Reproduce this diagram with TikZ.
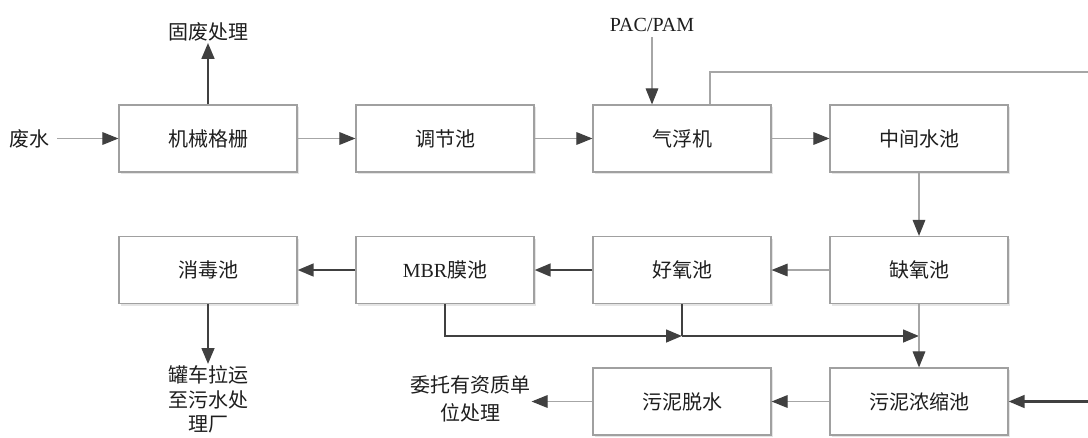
\documentclass[tikz,border=0pt]{standalone}
\usepackage{fontspec}
\setmainfont{Liberation Serif}
\newfontfamily\cjk{Noto Sans CJK SC}
\usetikzlibrary{arrows.meta,shadows}
\definecolor{boxgray}{HTML}{A0A0A0}
\definecolor{linegray}{HTML}{A6A6A6}
\definecolor{dark}{HTML}{404040}
\definecolor{txtc}{HTML}{1E1E1E}
\begin{document}
\begin{tikzpicture}[x=0.75pt,y=-0.75pt,
  box/.style={draw=boxgray, line width=0.9pt, fill=white, minimum width=133.5pt, minimum height=50.25pt,
    inner sep=0pt, text=txtc, font=\cjk\fontsize{15}{20}\selectfont,
    drop shadow={shadow xshift=1.5pt, shadow yshift=-1.5pt, fill=black!10, opacity=1}},
  txt/.style={inner sep=1pt, text=txtc, font=\cjk\fontsize{15}{20}\selectfont, align=center},
  tip/.style={-{Triangle[length=12pt,width=9.5pt,color=dark]}},
  thinl/.style={draw=linegray, line width=0.8pt},
  thickl/.style={draw=dark, line width=1.9pt},
  thinarrow/.style={thinl, tip},
  thickarrow/.style={thickl, tip}]
\fill[white] (0,0) rectangle (1088,437);
\useasboundingbox (0,0) rectangle (1088,437);

% boxes
\node[box] (jx) at (208,138.5) {机械格栅};
\node[box] (tj) at (445,138.5) {调节池};
\node[box] (qf) at (682,138.5) {气浮机};
\node[box] (zj) at (919,138.5) {中间水池};
\node[box] (xd) at (208,270) {消毒池};
\node[box] (mbr) at (445,270) {{\rmfamily MBR}膜池};
\node[box] (hy) at (682,270) {好氧池};
\node[box] (qy) at (919,270) {缺氧池};
\node[box] (wt) at (682,401.5) {污泥脱水};
\node[box] (nc) at (919,401.5) {污泥浓缩池};

% labels
\node[txt] (fs) at (29,138.5) {废水};
\node[txt] (gf) at (208,32) {固废处理};
\node[txt, font=\rmfamily\fontsize{15}{18}\selectfont] (pac) at (652,25) {PAC/PAM};
\node[txt, anchor=north, font=\cjk\fontsize{15}{18.5}\selectfont] (gc) at (208,364) {罐车拉运\\至污水处\\理厂};
\node[txt, font=\cjk\fontsize{15}{20.5}\selectfont] (wt2) at (470,399) {委托有资质单\\位处理};

% coordinates
\coordinate (j1) at (682,336);
\coordinate (j2) at (919,336);
\coordinate (r1) at (1088,72);
\coordinate (r2) at (1088,401.5);

% connectors
\draw[thinarrow, shorten <=5pt] (fs) -- (jx);
\draw[thickarrow] (jx.north) -- (gf.south);
\draw[thinarrow] (jx) -- (tj);
\draw[thinarrow] (tj) -- (qf);
\draw[thinarrow] (qf) -- (zj);
\draw[thinarrow, shorten <=3pt] (pac.south) -- (pac.south |- qf.north);
\draw[thinl] ([xshift=21pt]qf.north) |- (r1);
\draw[thinarrow] (zj) -- (qy);
\draw[thinarrow] (qy) -- (hy);
\draw[thickarrow] (hy) -- (mbr);
\draw[thickarrow] (mbr) -- (xd);
\draw[thickarrow] (xd.south) -- (gc.north);
\draw[thickarrow] (mbr.south) |- (j1);
\draw[thickl] (hy.south) -- (j1);
\draw[thickarrow] (j1) -- (j2);
\draw[thinarrow] (qy) -- (nc);
\draw[thinarrow] (nc) -- (wt);
\draw[thinarrow] (wt.west) -- (wt.west -| wt2.east);
\draw[thickarrow] (r2) -- (nc.east);
\end{tikzpicture}
\end{document}
